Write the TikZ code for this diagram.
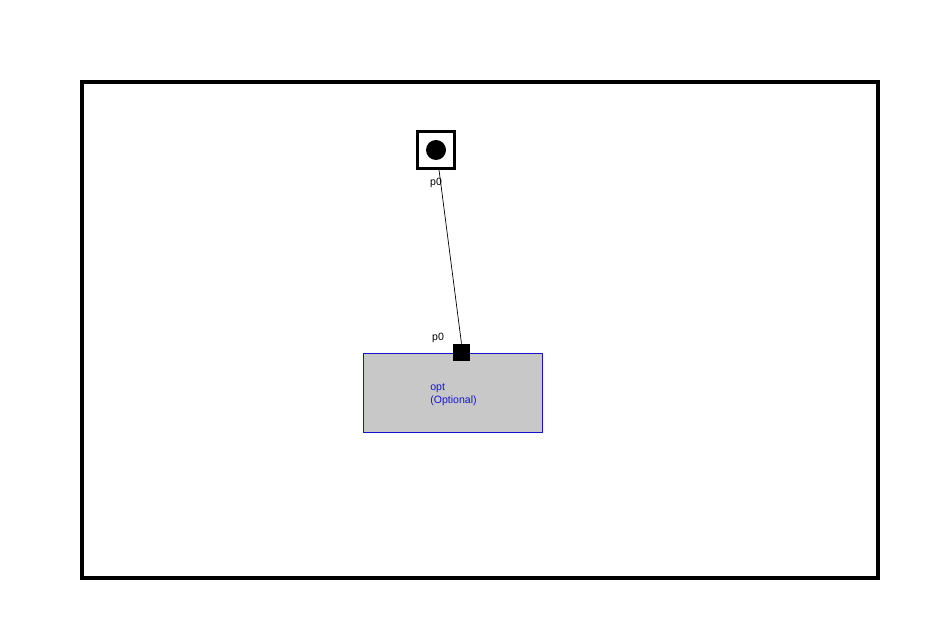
\documentclass[tikz,border=0pt]{standalone}
\usepackage{fontspec}
\setmainfont{Liberation Sans}
\usepackage{tikz}
\usetikzlibrary{positioning}

\definecolor{optgray}{RGB}{200,200,200}
\definecolor{optblue}{RGB}{20,20,200}

\tikzset{
  portlabel/.style={font=\fontsize{6}{7.5}\selectfont, inner sep=0pt},
  optbox/.style={draw=optblue, fill=optgray, line width=0.5pt, minimum width=3.58cm, minimum height=1.58cm, inner sep=0pt},
}

\begin{document}
\begin{tikzpicture}

  \useasboundingbox (0,0) rectangle (18.5,-12.5);

  % outer frame
  \draw[line width=2.3pt] (1.64,-1.64) rectangle (17.56,-11.56);

  % top port
  \node[draw, line width=1.4pt, minimum size=0.74cm, inner sep=0pt] (top) at (8.72,-3) {};
  \fill (top.center) circle (0.2);
  \node[portlabel] (toplabel) at (8.72,-3.66) {p0};

  % optional block
  \node[optbox] (opt) at (9.05,-7.85) {};
  \node[portlabel, text=optblue, align=left, anchor=north west] (optlabel) at (8.6,-7.67) {opt\\(Optional)};
  \node[fill, minimum size=0.34cm, inner sep=0pt] (port) at (9.23,-7.05) {};
  \node[portlabel] (portlabel) at (8.76,-6.76) {p0};

  \draw[line width=0.4pt] (top.south) ++(0.06,0) coordinate (topend) -- (port.north);

\end{tikzpicture}
\end{document}
